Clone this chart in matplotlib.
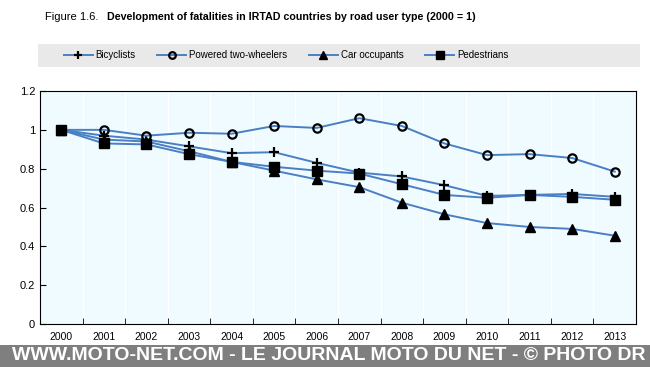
import matplotlib.pyplot as plt
from matplotlib.patches import Rectangle
from matplotlib.ticker import FixedLocator, FuncFormatter

plt.rcParams['font.family'] = ['Liberation Sans', 'DejaVu Sans']

years = [str(y) for y in range(2000, 2014)]
bicyclists = [1.0, 0.97, 0.95, 0.915, 0.88, 0.885, 0.83, 0.78, 0.76, 0.715, 0.66, 0.665, 0.67, 0.655]
ptw = [1.0, 1.0, 0.97, 0.985, 0.98, 1.02, 1.01, 1.06, 1.02, 0.93, 0.87, 0.875, 0.855, 0.785]
car = [1.0, 0.95, 0.94, 0.89, 0.835, 0.79, 0.745, 0.705, 0.625, 0.565, 0.52, 0.50, 0.49, 0.455]
pedestrians = [1.0, 0.93, 0.925, 0.875, 0.835, 0.81, 0.79, 0.775, 0.72, 0.665, 0.65, 0.665, 0.655, 0.64]

line_col = '#4a7fc4'

fig = plt.figure(figsize=(6.5, 3.67), dpi=100)
ax = fig.add_axes([0.0615, 0.117, 0.917, 0.635])
ax.set_facecolor('#f0fbff')

x = list(range(len(years)))
ax.plot(x, bicyclists, color=line_col, lw=1.4, marker='+', ms=7, mec='black', mew=1.6, label='Bicyclists')
ax.plot(x, ptw, color=line_col, lw=1.4, marker='o', ms=6, mec='black', mfc='none', mew=1.6, label='Powered two-wheelers')
ax.plot(x, car, color=line_col, lw=1.4, marker='^', ms=7, mec='black', mfc='black', label='Car occupants')
ax.plot(x, pedestrians, color=line_col, lw=1.4, marker='s', ms=6.5, mec='black', mfc='black', label='Pedestrians')

ax.set_xlim(-0.5, len(years) - 0.5)
ax.set_ylim(0, 1.2)
ax.set_xticks(x)
ax.set_xticklabels(years, fontsize=7.5)
ax.xaxis.set_minor_locator(FixedLocator([i + 0.5 for i in range(len(years) - 1)]))
ax.tick_params(axis='x', which='major', length=0, pad=6)
ax.tick_params(axis='x', which='minor', length=4, direction='in')
ax.grid(axis='x', which='minor', color='white', lw=1)
ax.set_yticks([0, 0.2, 0.4, 0.6, 0.8, 1.0, 1.2])
ax.yaxis.set_major_formatter(FuncFormatter(lambda v, p: f'{v:g}'))
ax.tick_params(axis='y', labelsize=8, length=4, direction='in')
for s in ax.spines.values():
    s.set_color('black')
    s.set_linewidth(0.8)

# title
fig.text(0.069, 0.955, 'Figure 1.6.', fontsize=8, va='center')
fig.text(0.165, 0.955, 'Development of fatalities in IRTAD countries by road user type (2000 = 1)',
         fontsize=7.7, fontweight='bold', va='center')

# legend band
fig.patches.append(Rectangle((0.058, 0.817), 0.927, 0.063, transform=fig.transFigure,
                             facecolor='#e9e9e9', edgecolor='none'))
fig.legend(loc='center', bbox_to_anchor=(0.44, 0.849), ncol=4, frameon=False,
           fontsize=7, handlelength=3.0, columnspacing=2.2,
           handletextpad=0.3, markerscale=0.8)

# watermark band
fig.patches.append(Rectangle((0, 0), 1, 0.06, transform=fig.transFigure,
                             facecolor='#7f7f7f', edgecolor='none'))
fig.text(0.505, 0.03, 'WWW.MOTO-NET.COM - LE JOURNAL MOTO DU NET - © PHOTO DR',
         color='white', fontsize=14, fontweight='bold', ha='center', va='center')

fig.savefig('out.png', dpi=100)
